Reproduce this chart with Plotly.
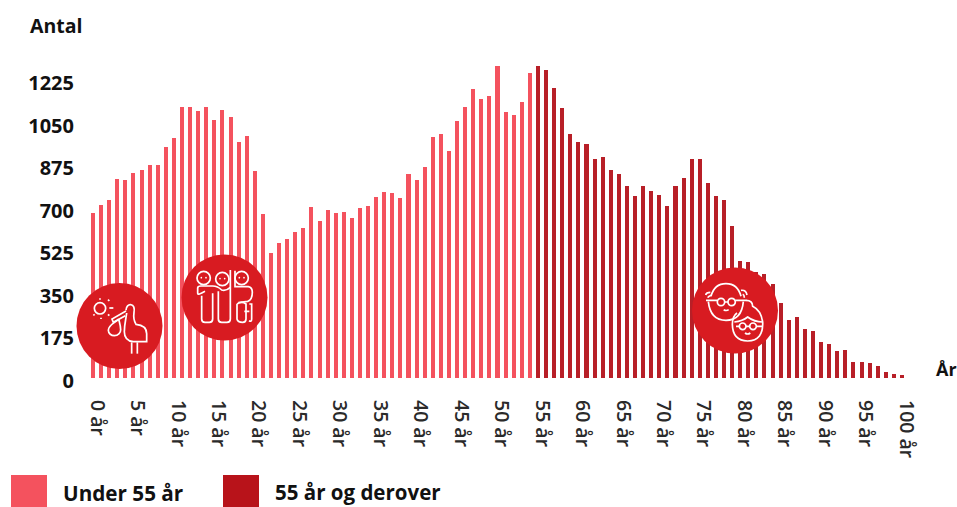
import re
import plotly.graph_objects as go

W, H = 957, 507

ages = list(range(101))
antal = [
    678, 711, 732, 818, 814, 843, 855, 875, 875, 949, 986, 1114, 1114, 1097, 1114, 1060, 1101, 1073, 970, 995,
    851, 674, 514, 555, 571, 600, 617, 703, 645, 690, 678, 682, 658, 699, 707, 744, 764, 760, 740, 838,
    814, 867, 990, 1003, 933, 1056, 1114, 1188, 1147, 1159, 1282, 1093, 1081, 1134, 1254, 1282, 1266, 1192, 1110, 1003,
    970, 962, 900, 908, 855, 838, 789, 748, 789, 768, 752, 707, 789, 822, 900, 900, 801, 748, 731, 624,
    481, 477, 436, 427, 386, 308, 238, 250, 201, 193, 148, 140, 111, 115, 66, 66, 62, 49, 25, 16, 12,
]
split_age = 55
series_names = ["Under 55 år", "55 år og derover"]
y_ticks = [0, 175, 350, 525, 700, 875, 1050, 1225]
x_ticks = list(range(0, 101, 5))
x_labels = [f"{a} år" for a in x_ticks]

LIGHT = "#F4525E"
DARK = "#B81F27"
LEGEND_DARK = "#B8131A"
ICON = "#D81B21"
FONT = "Open Sans"
STROKE = 1.7


def fx(x):
    return x / W


def fy(y):
    return 1 - y / H


def path_shape(d, ox, oy, width=STROKE):
    def repl(m):
        a = float(m.group(1)); b = float(m.group(2))
        return f"{fx(ox + a / 3):.5f},{fy(oy + b / 3):.5f}"
    out = re.sub(r"(-?[\d.]+)[ ,](-?[\d.]+)", repl, d)
    return dict(type="path", path=out, xref="paper", yref="paper", layer="above",
                line=dict(color="white", width=width), fillcolor="rgba(0,0,0,0)")


def circle(cx, cy, r, fill=None, width=STROKE):
    return dict(type="circle", xref="paper", yref="paper", layer="above",
                x0=fx(cx - r), x1=fx(cx + r), y0=fy(cy + r), y1=fy(cy - r),
                fillcolor=fill or "rgba(0,0,0,0)",
                line=dict(color=fill or "white", width=0 if fill else width))


def icircle(zx, zy, zr, ox, oy, solid=False, width=STROKE):
    if solid:
        return circle(ox + zx / 3, oy + zy / 3, zr / 3, fill="white")
    return circle(ox + zx / 3, oy + zy / 3, zr / 3, width=width)


shapes = []
# Legend swatches
for x0, col in ((11, LIGHT), (223, LEGEND_DARK)):
    shapes.append(dict(type="rect", xref="paper", yref="paper", x0=fx(x0), x1=fx(x0 + 36),
                       y0=fy(507), y1=fy(475), fillcolor=col, line=dict(width=0), layer="above"))
# Badges
shapes += [circle(119.5, 326, 43, fill=ICON), circle(224.5, 297.5, 43, fill=ICON), circle(735, 310.5, 43, fill=ICON)]

# Stork icon
o = (76, 283)
shapes.append(icircle(72, 76, 17, *o))
for d in ["M 100 75 L 112 75", "M 96 50 L 100 54", "M 72 46 L 72 50", "M 52 97 L 56 94", "M 75 104 L 75 108", "M 96 94 L 100 98",
          "M 150 82 C 150 70 158 64 164 65 C 174 66 176 76 174 88 C 172 102 174 114 180 124 C 200 126 212 136 212 152 L 212 176 L 172 176 C 154 174 145 162 145 146 C 145 124 150 108 152 90",
          "M 150 84 L 108 108 L 112 118 L 148 98",
          "M 128 108 C 118 120 97 125 97 142 C 97 152 106 158 115 158 C 126 158 134 150 134 140 C 134 128 130 118 128 108",
          "M 167 178 L 167 212", "M 184 178 L 184 212"]:
    shapes.append(path_shape(d, *o))

# Family icon
o = (181, 254)
for c in ((68, 72), (124, 75), (182, 72)):
    shapes.append(icircle(c[0], c[1], 20, *o))
    shapes.append(icircle(c[0] - 7, c[1] - 1, 2.5, *o, solid=True))
    shapes.append(icircle(c[0] + 7, c[1] - 1, 2.5, *o, solid=True))
for d in ["M 72 112 Q 50 125 50 118 L 50 102 Q 50 96 60 96 L 95 96 Q 110 96 122 108 Q 135 112 148 100",
          "M 62 125 L 62 195 Q 62 205 72 205 L 85 205 Q 95 205 95 195 L 95 118",
          "M 112 112 L 112 195 Q 112 205 122 205 L 138 205 Q 148 205 148 195 L 148 48",
          "M 162 50 L 162 98 L 202 98 Q 214 100 214 115 Q 214 138 200 142 L 172 146",
          "M 168 150 L 168 195 Q 170 205 185 205 Q 195 205 195 195 L 195 150 Q 182 140 168 150",
          "M 205 150 L 212 150 L 212 195 Q 212 205 204 200 M 190 172 L 205 172"]:
    shapes.append(path_shape(d, *o))

# Seniors icon
o = (691, 267)
shapes += [icircle(90, 105, 11, *o), icircle(122, 105, 11, *o),
           icircle(155, 178, 10, *o), icircle(186, 178, 10, *o)]
for d in ["M 52 104 Q 58 160 105 160 Q 152 160 157 104",
          "M 60 88 Q 70 50 105 50 Q 140 50 150 88",
          "M 45 100 L 78 100 M 133 100 L 166 100 M 101 105 L 111 105",
          "M 98 128 Q 106 133 113 128",
          "M 58 76 Q 46 76 44 84 M 62 84 Q 52 88 50 92 M 150 70 Q 165 68 168 84 M 155 82 Q 160 84 160 92",
          "M 165 100 Q 185 100 185 118 Q 210 130 215 165 Q 218 220 170 222 Q 125 222 124 172 Q 124 148 138 138",
          "M 130 165 Q 155 162 170 150 Q 190 165 215 165",
          "M 165 178 L 176 178 M 135 178 L 145 178 M 196 178 L 215 178",
          "M 162 198 Q 170 204 178 198"]:
    shapes.append(path_shape(d, *o))

annotations = []
for txt, x, y, anchor, size in (("Antal", 28, 25, "left", 19.5), ("År", 934, 369, "left", 18),
                                ("Under 55 år", 61, 493, "left", 20.7), ("55 år og derover", 273, 492, "left", 20.5)):
    annotations.append(dict(text=f"<b>{txt}</b>", xref="paper", yref="paper", x=fx(x), y=fy(y),
                            xanchor=anchor, yanchor="middle", showarrow=False,
                            font=dict(family=FONT, size=size, color="#111111")))

young = [(a, v) for a, v in zip(ages, antal) if a < split_age]
old = [(a, v) for a, v in zip(ages, antal) if a >= split_age]

fig = go.Figure()
fig.add_bar(x=[a for a, _ in young], y=[v for _, v in young], name=series_names[0],
            marker=dict(color=LIGHT, line=dict(width=0)), width=0.5)
fig.add_bar(x=[a for a, _ in old], y=[v for _, v in old], name=series_names[1],
            marker=dict(color=DARK, line=dict(width=0)), width=0.5)

px_per_age = 8.09
left, right = 80, 920
fig.update_layout(
    width=W, height=H, margin=dict(l=0, r=0, t=0, b=0), autosize=False,
    paper_bgcolor="white", plot_bgcolor="white", showlegend=False,
    barmode="overlay", bargap=0, shapes=shapes, annotations=annotations,
    xaxis=dict(domain=[fx(left), fx(right)], automargin=False,
               range=[(left - 93) / px_per_age, (right - 93) / px_per_age],
               tickmode="array", tickvals=x_ticks, ticktext=x_labels, tickangle=90,
               showgrid=False, zeroline=False, showline=False, ticks="",
               ticklabelstandoff=21, ticklabelshift=4,
               tickfont=dict(family=FONT, size=19.5, color="#2a2a2a", weight=600)),
    yaxis=dict(domain=[fy(378), fy(50)], automargin=False,
               range=[0, 328 / 0.2433],
               tickmode="array", tickvals=y_ticks, ticktext=[str(t) for t in y_ticks],
               showgrid=False, zeroline=False, showline=False, ticks="",
               ticklabelstandoff=5, ticklabelshift=3,
               tickfont=dict(family=FONT, size=20, color="#111111", weight=700)),
)
fig.write_html("out.html", config={"displayModeBar": False},
               post_script="document.body.style.margin='0';")
